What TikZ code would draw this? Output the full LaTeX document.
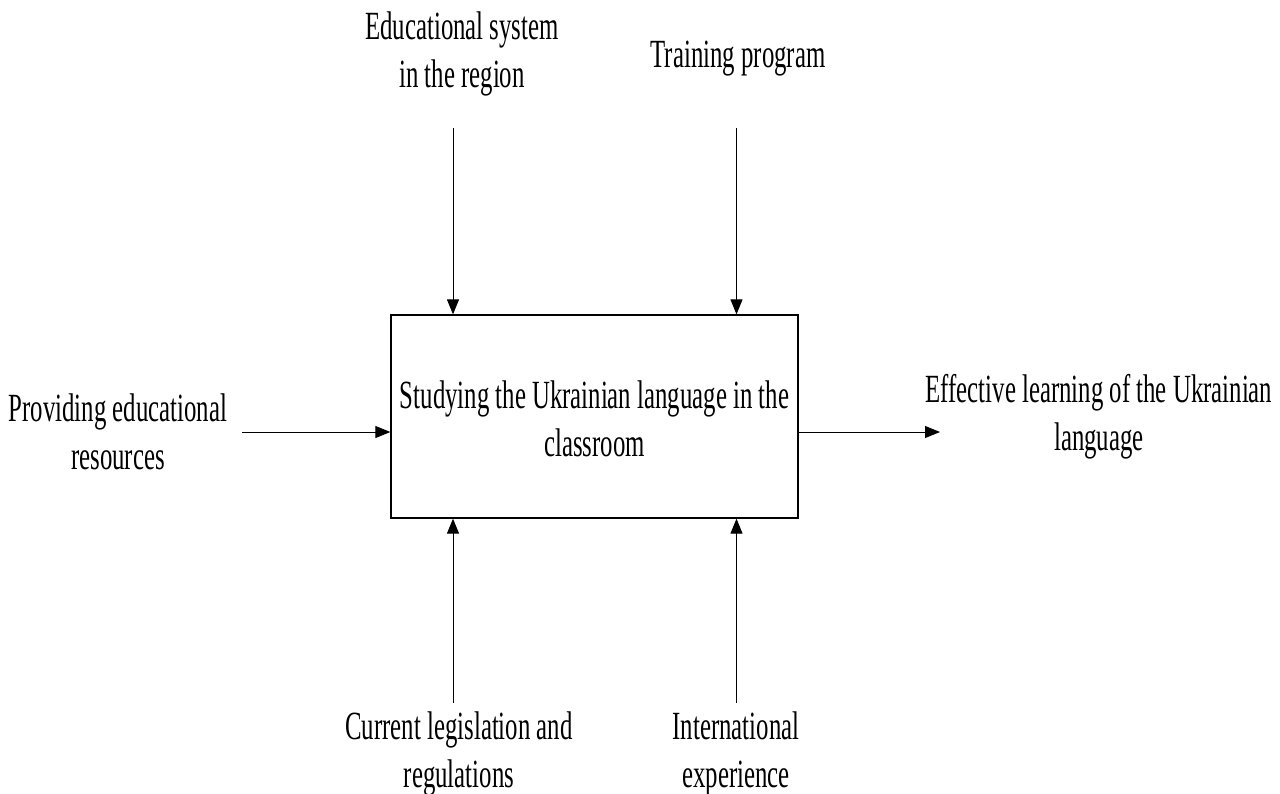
\documentclass[tikz,border=0pt]{standalone}
\usepackage{fontspec}
\newfontfamily\cond[FakeStretch=0.62]{Liberation Serif}
\usetikzlibrary{arrows.meta}
\begin{document}
\begin{tikzpicture}[x=1pt,y=-1pt,
  lbl/.style={font=\cond\fontsize{40}{48}\selectfont, align=center, inner sep=0pt},
  arr/.style={line width=1pt, -{Triangle[length=15pt,width=12pt]}},
  procbox/.style={draw, line width=1.3pt, minimum width=407pt, minimum height=203pt, inner sep=0pt}]
\useasboundingbox (0,0) rectangle (1280,793);
\node[procbox] (box) at (594.5,416.5) {};
\node[lbl] (boxtxt) at (594.5,419) {Studying the Ukrainian language in the\\classroom};
\node[lbl] (edu) at (462,54) {Educational system\\in the region};
\node[lbl] (train) at (738,59) {Training program};
\node[lbl] (prov) at (118,432) {Providing educational\\resources};
\node[lbl] (eff) at (1099,417) {Effective learning of the Ukrainian\\language};
\node[lbl] (leg) at (459,754) {Current legislation and\\regulations};
\node[lbl] (intl) at (736,754) {International\\experience};
\coordinate (t1) at (453,128);
\coordinate (t2) at (736.5,128);
\coordinate (b1) at (453,703);
\coordinate (b2) at (736.5,703);
\coordinate (lin) at (242,432);
\coordinate (rout) at (940,432);
\draw[arr] (t1) -- (t1 |- box.north);
\draw[arr] (t2) -- (t2 |- box.north);
\draw[arr] (b1) -- (b1 |- box.south);
\draw[arr] (b2) -- (b2 |- box.south);
\draw[arr] (lin) -- (lin -| box.west);
\draw[arr] (lin -| box.east) -- (rout);
\end{tikzpicture}
\end{document}
